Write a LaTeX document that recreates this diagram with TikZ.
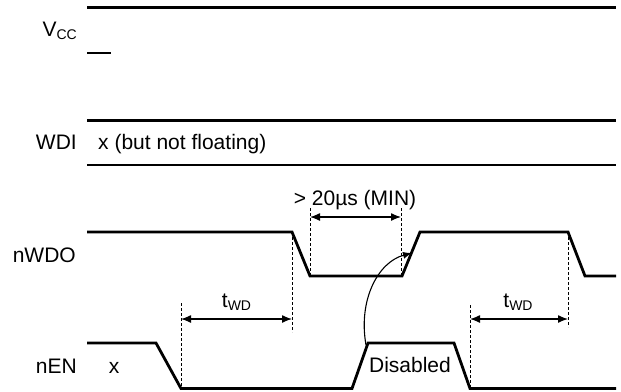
\documentclass[tikz,border=0pt]{standalone}
\usepackage{fontspec}
\setmainfont{Liberation Sans}
\usetikzlibrary{arrows.meta}
\newcommand{\sbt}[1]{\raisebox{-3pt}{\fontsize{14}{14}\selectfont #1}}
\begin{document}
\begin{tikzpicture}[x=1pt,y=-1pt,
  sig/.style={line width=2.8pt, line join=miter},
  guide/.style={line width=1pt, dash pattern=on 3pt off 2pt},
  dim/.style={line width=1.3pt, {Latex[length=10pt,width=8pt]}-{Latex[length=10pt,width=8pt]}},
  curv/.style={line width=1.1pt, -{Latex[length=9pt,width=7pt]}},
  lbl/.style={font=\fontsize{21}{24}\selectfont, inner sep=0pt, anchor=base}
]
\useasboundingbox (0,0) rectangle (621,391);

% signal labels
\node[lbl, anchor=base east] (vcc) at (77,36) {V\sbt{CC}};
\node[lbl, anchor=base east] (wdi) at (77,149) {WDI};
\node[lbl, anchor=base east] (nwdo) at (76,262) {nWDO};
\node[lbl, anchor=base east] (nen) at (77,373) {nEN};

% VCC
\draw[sig] (87,7.5) -- (616,7.5);
\draw[sig] (87,53) -- (111,53);

% WDI
\draw[sig] (87,120.5) -- (616,120.5);
\draw[sig] (87,165) -- (616,165);
\node[lbl, anchor=base west] (wdix) at (98,149) {x (but not floating)};

% nWDO
\coordinate (wf1) at (292,232);
\coordinate (wf1b) at (310,276);
\coordinate (wr1b) at (402,276);
\coordinate (wr1) at (420,232);
\coordinate (wf2) at (568,232);
\coordinate (wf2b) at (585,276);
\draw[sig] (87,232) -- (wf1) -- (wf1b) -- (wr1b) -- (wr1) -- (wf2) -- (wf2b) -- (616,276);

% nEN
\coordinate (ef1) at (156,343);
\coordinate (ef1b) at (181,388.5);
\coordinate (er1b) at (352,388.5);
\coordinate (er1) at (368,343);
\coordinate (ef2) at (454,343);
\coordinate (ef2b) at (470,388.5);
\draw[sig] (87,343) -- (ef1) -- (ef1b) -- (er1b) -- (er1) -- (ef2) -- (ef2b) -- (616,388.5);
\node[lbl] (enx) at (114,373) {x};
\node[lbl] (dis) at (410,372) {Disabled};

% guide lines
\coordinate (g1t) at (181,303); \coordinate (g1b) at (181,388);
\coordinate (g2t) at (292,232); \coordinate (g2b) at (292,332);
\coordinate (g3t) at (310,208); \coordinate (g3b) at (310,276);
\coordinate (g4t) at (401,208); \coordinate (g4b) at (401,276);
\coordinate (g5t) at (470,305); \coordinate (g5b) at (470,388);
\coordinate (g6t) at (568,232); \coordinate (g6b) at (568,327);
\foreach \g in {1,...,6} {\draw[guide] (g\g t) -- (g\g b);}

% dimension arrows
\coordinate (a1l) at (181,319); \coordinate (a1r) at (292,319);
\coordinate (a2l) at (310,217); \coordinate (a2r) at (401,217);
\coordinate (a3l) at (470,319); \coordinate (a3r) at (568,319);
\draw[dim] (a1l) -- (a1r);
\draw[dim] (a2l) -- (a2r);
\draw[dim] (a3l) -- (a3r);
\node[lbl] (twd1) at (236.5,307) {t\sbt{WD}};
\node[lbl] (twd2) at (518,307) {t\sbt{WD}};
\node[lbl] (pw) at (355,205) {> 20µs (MIN)};

% causal curved arrow
\coordinate (cs) at (366,345);
\coordinate (ce) at (412,253);
\draw[curv] (cs) .. controls (358,300) and (378,262) .. (ce);
\end{tikzpicture}
\end{document}
